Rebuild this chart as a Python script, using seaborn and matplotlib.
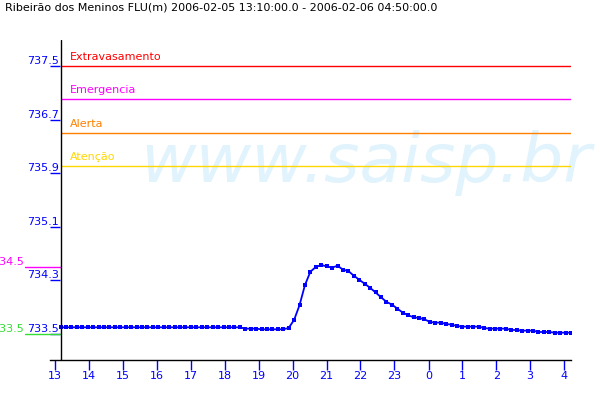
import numpy as np
import matplotlib
matplotlib.use('Agg')
import matplotlib.pyplot as plt
import seaborn as sns

sns.set_style('white')
plt.rcParams['font.family'] = ['DejaVu Sans']

title = 'Ribeirão dos Meninos FLU(m) 2006-02-05 13:10:00.0 - 2006-02-06 04:50:00.0'

# readings every 10 min, starting 13:10
start_hour = 13 + 10 / 60
step_hours = 10 / 60
nivel = [
    733.60, 733.60, 733.60, 733.60, 733.60, 733.60, 733.60, 733.60, 733.60, 733.60,
    733.60, 733.60, 733.60, 733.60, 733.60, 733.60, 733.60, 733.60, 733.60, 733.60,
    733.60, 733.60, 733.60, 733.60, 733.60, 733.60, 733.60, 733.60, 733.60, 733.60,
    733.60, 733.60, 733.60, 733.60, 733.58, 733.58, 733.58, 733.57, 733.57, 733.57,
    733.57, 733.57, 733.59, 733.71, 733.93, 734.23, 734.43, 734.50, 734.53, 734.51,
    734.49, 734.52, 734.46, 734.44, 734.37, 734.31, 734.25, 734.19, 734.12, 734.05,
    733.98, 733.94, 733.88, 733.82, 733.78, 733.75, 733.74, 733.72, 733.68, 733.67,
    733.67, 733.65, 733.64, 733.62, 733.61, 733.61, 733.61, 733.61, 733.59, 733.58,
    733.58, 733.58, 733.58, 733.56, 733.56, 733.55, 733.55, 733.55, 733.53, 733.53,
    733.53, 733.52, 733.52, 733.52, 733.52,
]

yticks = [733.5, 734.3, 735.1, 735.9, 736.7, 737.5]
xtick_labels = ['13', '14', '15', '16', '17', '18', '19', '20', '21', '22', '23',
                '0', '1', '2', '3', '4']
xtick_pos = [13.00, 14.04, 15.08, 16.12, 17.16, 18.20, 19.25, 20.29, 21.33, 22.37,
             23.41, 24.46, 25.50, 26.54, 27.58, 28.63]

level_names = ['Extravasamento', 'Emergencia', 'Alerta', 'Atenção']
level_values = [737.5, 737.0, 736.5, 736.0]
level_colors = ['#ff0000', '#ff00ff', '#ff8000', '#ffd700']

side_values = [734.5, 733.5]
side_colors = ['#ff00ff', '#33dd33']

hours = start_hour + step_hours * np.arange(len(nivel))

fig = plt.figure(figsize=(6, 4), dpi=100)
ax = fig.add_axes([50 / 600, 40 / 400, 521 / 600, 320 / 400])

# watermark
ax.text(140 / 600, 218 / 400, 'www.saisp.br', transform=fig.transFigure,
        fontsize=49, style='italic', color='#e1f3fc', ha='left', va='baseline',
        zorder=0)

sns.lineplot(x=hours, y=nivel, color='#0000ff', marker='s', markersize=2.6,
             markeredgewidth=0, linewidth=1.3, ax=ax, zorder=3)

for name, v, c in zip(level_names, level_values, level_colors):
    ax.hlines(v, hours[0], hours[-1], color=c, linewidth=1, zorder=2)
    ax.annotate(name, (hours[0], v), xytext=(7, 3), textcoords='offset points',
                color=c, fontsize=8, ha='left', va='bottom')

# y axis drawn at first reading
ax.axvline(hours[0], color='black', linewidth=1, zorder=4)

ytr = ax.get_yaxis_transform()
for v, c in zip(side_values, side_colors):
    ax.plot([-0.048, (hours[0] - 12.841) / (hours[-1] - 12.841)], [v, v],
            color=c, linewidth=1, transform=ytr, clip_on=False, zorder=2)
    ax.text(-0.05, v, f'{v:.1f}', transform=ytr, color=c, fontsize=8,
            ha='right', va='bottom')

ax.set_xlim(12.841, hours[-1])
ax.set_ylim(733.112, 737.888)

ax.set_xticks(xtick_pos)
ax.set_xticklabels(xtick_labels)
ax.set_yticks(yticks)
ax.set_yticklabels([f'{v:.1f}' for v in yticks])
for lab in ax.get_yticklabels():
    lab.set_va('bottom')

ax.tick_params(axis='x', bottom=True, direction='out', length=7.2, width=1,
               color='#0000ff', labelcolor='#0000ff', labelsize=8, pad=1)
ax.tick_params(axis='y', left=True, direction='in', length=7.2, width=1,
               color='#0000ff', labelcolor='#0000ff', labelsize=8, pad=-6.5)

for s in ['top', 'right', 'left']:
    ax.spines[s].set_visible(False)
ax.spines['bottom'].set_color('black')
ax.spines['bottom'].set_linewidth(1)
ax.set_xlabel('')
ax.set_ylabel('')

fig.text(5 / 600, 1 - 3 / 400, title, fontsize=8, color='black',
         ha='left', va='top')

fig.savefig('out.png', dpi=100)
